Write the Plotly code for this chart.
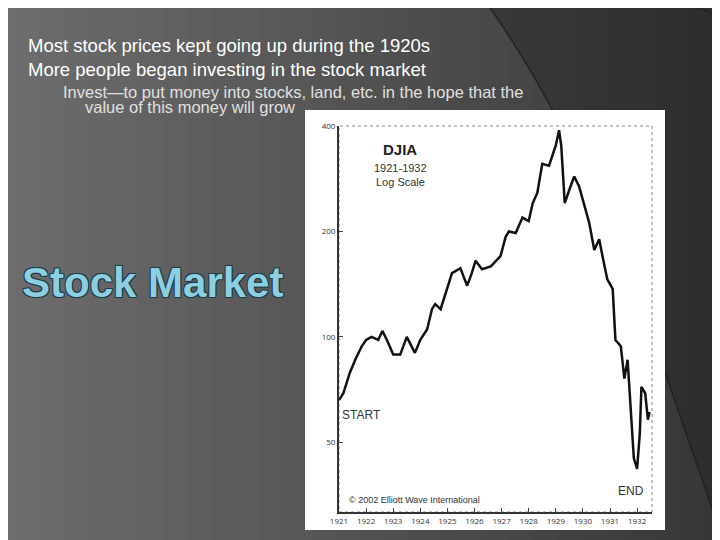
import plotly.graph_objects as go

# DJIA 1921-1932 (decimal year, index level)
years = [1921.0, 1921.16, 1921.4, 1921.6, 1921.84, 1922.0, 1922.2, 1922.45, 1922.6, 1922.77,
         1923.0, 1923.26, 1923.5, 1923.8, 1924.0, 1924.25, 1924.43, 1924.55, 1924.75, 1924.93,
         1925.17, 1925.48, 1925.73, 1925.9, 1926.04, 1926.28, 1926.6, 1926.96, 1927.15, 1927.27,
         1927.52, 1927.77, 1928.0, 1928.15, 1928.32, 1928.5, 1928.75, 1929.0, 1929.12, 1929.2,
         1929.33, 1929.5, 1929.68, 1929.86, 1930.05, 1930.23, 1930.42, 1930.6, 1930.73, 1930.9,
         1931.1, 1931.2, 1931.4, 1931.53, 1931.65, 1931.77, 1931.88, 1932.0, 1932.1, 1932.16,
         1932.3, 1932.4, 1932.46]
djia = [66, 69, 79, 86, 94, 98, 100, 98, 104, 98,
        89, 89, 100, 90, 98, 105, 120, 124, 120, 132,
        152, 157, 140, 152, 165, 156, 159, 170, 193, 200,
        198, 219, 214, 241, 258, 312, 308, 352, 389, 352,
        241, 263, 287, 269, 236, 212, 177, 190, 169, 146,
        137, 98, 94, 76, 86, 59, 45, 42, 53, 72,
        69, 58, 61]
tick_years = list(range(1921, 1933))
y_ticks = [50, 100, 200, 400]

W, H = 720, 540
L, R, T, B = 339, 68, 126, 28
OFF = 8  # the page puts the figure 8px in from the corner
pw, ph = W - L - R, H - T - B


def px(x):
    return (x - L) / pw


def py(y):
    return (H - B - y) / ph


fig = go.Figure()
fig.add_trace(go.Scatter(x=years, y=djia, mode="lines",
                         line=dict(color="#111111", width=2.5), showlegend=False))

shapes = []
# background gradient, lighter on the left
n = 30
for i in range(n):
    g = int(110 - 55 * i / (n - 1))
    shapes.append(dict(type="rect", xref="paper", yref="paper", layer="below",
                       x0=px(-10 + 740 * i / n), x1=px(-10 + 740 * (i + 1) / n + 1),
                       y0=py(H + 20), y1=py(-10),
                       fillcolor=f"rgb({g},{g},{g})", line_width=0))
# darker swoosh top right
shapes.append(dict(type="path", xref="paper", yref="paper", layer="below",
                   path=f"M {px(477)},{py(-10)} Q {px(560)},{py(100)} {px(640)},{py(300)} "
                        f"L {px(730)},{py(560)} L {px(730)},{py(-10)} Z",
                   fillcolor="rgba(30,30,30,0.35)", line=dict(color="#222", width=1.5)))
shapes.append(dict(type="path", xref="paper", yref="paper", layer="below",
                   path=f"M {px(680)},{py(0)} Q {px(700)},{py(10)} {px(720)},{py(15)}",
                   line=dict(color="#222", width=1.5)))
# white chart card
shapes.append(dict(type="rect", xref="paper", yref="paper", layer="below",
                   x0=px(305), x1=px(665), y0=py(530), y1=py(110),
                   fillcolor="white", line_width=0))
shapes.append(dict(type="rect", xref="paper", yref="paper", layer="below",
                   x0=0, x1=1, y0=0, y1=1, line=dict(color="#888", width=1, dash="dot")))

ann = []


def text(x, y, s, size, color, anchor="left", **kw):
    ann.append(dict(x=px(x), y=py(y), xref="paper", yref="paper", text=s, showarrow=False,
                    xanchor=anchor, yanchor="middle", font=dict(size=size, color=color, **kw)))


text(26, 46, "Most stock prices kept going up during the 1920s", 18.5, "white", family="Liberation Sans")
text(26, 70, "More people began investing in the stock market", 18.5, "white", family="Liberation Sans")
text(61, 92, "Invest—to put money into stocks, land, etc. in the hope that the", 16.5, "#e0e0e0",
     family="Liberation Sans")
text(83, 107, "value of this money will grow", 16.5, "#e0e0e0", family="Liberation Sans")
text(20, 282, "<b>Stock Market</b>", 42, "#8ccfe0", family="Liberation Sans",
     shadow="1px 1px 0 #1e3c48, -1px -1px 0 #1e3c48, 1px -1px 0 #1e3c48, -1px 1px 0 #1e3c48")
text(400, 149, "<b>DJIA</b>", 15, "#222", anchor="center", family="Liberation Sans")
text(400, 168, "1921-1932", 11, "#333", anchor="center", family="Liberation Sans")
text(400, 182, "Log Scale", 11, "#333", anchor="center", family="Liberation Sans")
text(340, 415, "START", 12, "#333", family="Liberation Sans")
text(646, 491, "END", 12, "#333", anchor="right", family="Liberation Sans")
text(347, 500, "© 2002 Elliott Wave International", 9, "#333", family="Liberation Sans")

fig.update_layout(
    width=W, height=H, margin=dict(l=L - OFF, r=R + OFF, t=T - OFF, b=B + OFF),
    paper_bgcolor="#555555", plot_bgcolor="white",
    shapes=shapes, annotations=ann,
    xaxis=dict(range=[1921, 1932.55], tickvals=tick_years, ticks="inside", ticklen=4,
               showgrid=False, zeroline=False, showline=True, linecolor="#333", linewidth=2,
               tickfont=dict(size=8, color="#333")),
    yaxis=dict(type="log", range=[1.5, 2.602], tickvals=y_ticks, ticks="inside", ticklen=4,
               showgrid=False, showline=True, linecolor="#333", linewidth=2,
               tickfont=dict(size=8, color="#333")),
)
fig.write_html("out.html")
